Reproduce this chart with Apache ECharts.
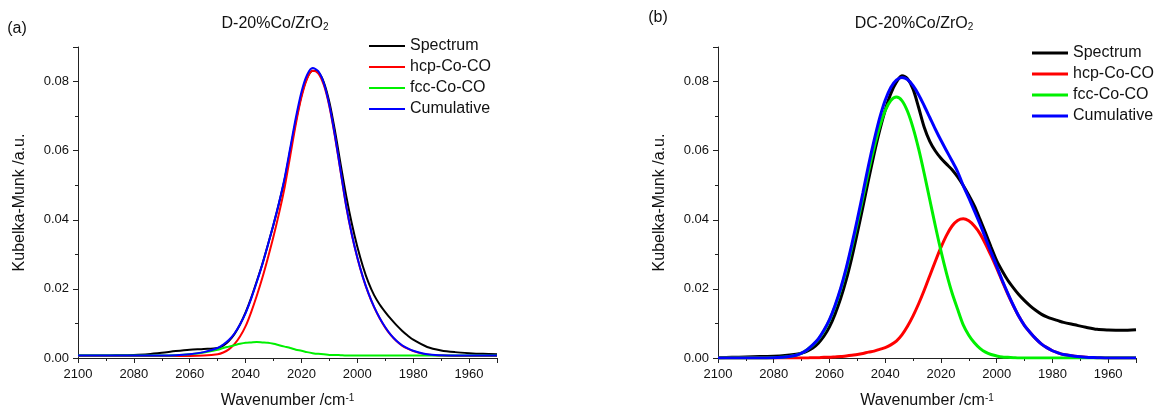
<!DOCTYPE html>
<html><head><meta charset="utf-8">
<script src="https://cdn.jsdelivr.net/npm/echarts@6/dist/echarts.min.js"></script>
<style>html,body{margin:0;padding:0;background:#fff}#c{width:1156px;height:414px}</style>
</head><body><div id="c"></div>
<script>
// ---------- Panel (a): D-20%Co/ZrO2 ----------
const waveA = [2100,2095,2090,2085,2080,2075,2070,2065,2060,2055,2050,
  2048,2046,2044,2042,2040,2038,2036,2034,2032,2030,2028,2026,2024,2022,2020,2018,2016,2014,2012,2010,
  2008,2006,2004,2002,2000,1998,1996,1994,1992,1990,1988,1986,1984,1982,1980,
  1975,1970,1965,1960,1955,1950];
const spectrumA = [0.0007,0.0007,0.0007,0.0008,0.0009,0.0011,0.0015,0.0020,0.0024,0.0026,0.0029,
  0.0036,0.0049,0.0069,0.0097,0.0132,0.0174,0.0222,0.0272,0.0328,0.0386,0.0449,0.0518,0.0602,0.0686,0.0760,0.0810,0.0831,0.0827,0.0798,0.0740,
  0.0657,0.0562,0.0470,0.0390,0.0322,0.0265,0.0218,0.0182,0.0155,0.0133,0.0113,0.0095,0.0079,0.0065,0.0053,
  0.0032,0.0022,0.0017,0.0014,0.0012,0.0011];
const hcpA = [0.0006,0.0006,0.0006,0.0006,0.0006,0.0006,0.0006,0.0006,0.0006,0.0007,0.0011,
  0.0016,0.0025,0.0040,0.0062,0.0092,0.0133,0.0180,0.0232,0.0290,0.0352,0.0420,0.0495,0.0586,0.0678,0.0755,0.0808,0.0831,0.0824,0.0790,0.0728,
  0.0640,0.0540,0.0440,0.0358,0.0290,0.0233,0.0186,0.0147,0.0115,0.0088,0.0066,0.0049,0.0036,0.0027,0.0020,
  0.0010,0.0007,0.0006,0.0006,0.0006,0.0006];
const fccA = [0.0007,0.0007,0.0007,0.0007,0.0007,0.0007,0.0007,0.0008,0.0011,0.0016,0.0024,
  0.0029,0.0033,0.0037,0.0041,0.0044,0.0045,0.0046,0.0045,0.0044,0.0041,0.0037,0.0033,0.0029,0.0024,0.0021,0.0017,0.0014,0.0012,0.0011,0.0009,
  0.0009,0.0008,0.0007,0.0007,0.0007,0.0007,0.0007,0.0007,0.0007,0.0007,0.0007,0.0007,0.0007,0.0007,0.0007,
  0.0007,0.0007,0.0007,0.0007,0.0007,0.0007];
const cumulativeA = [0.0007,0.0007,0.0007,0.0007,0.0007,0.0007,0.0007,0.0008,0.0011,0.0017,0.0029,
  0.0039,0.0052,0.0071,0.0097,0.0130,0.0172,0.0220,0.0271,0.0328,0.0387,0.0451,0.0522,0.0609,0.0696,0.0770,0.0819,0.0839,0.0830,0.0795,0.0731,
  0.0643,0.0542,0.0441,0.0359,0.0291,0.0234,0.0187,0.0148,0.0116,0.0089,0.0067,0.0050,0.0037,0.0028,0.0021,
  0.0011,0.0008,0.0007,0.0007,0.0007,0.0007];

// ---------- Panel (b): DC-20%Co/ZrO2 ----------
const waveB = [2100,2095,2090,2085,2080,2076,
  2072,2070,2068,2066,2064,2062,2060,2058,2056,2054,
  2052,2050,2048,2046,2044,2042,2040,2038,2036,2034,
  2032,2030,2028,2026,2024,2022,2020,2018,2016,2014,
  2012,2010,2008,2006,2004,2002,2000,1998,1996,1994,
  1992,1990,1988,1986,1984,1982,1980,1978,1976,
  1972,1968,1964,1960,1955,1950];
const spectrumB = [0.0001,0.0002,0.0003,0.0004,0.0005,0.0007,
  0.0011,0.0014,0.0020,0.0029,0.0043,0.0063,0.0090,0.0127,0.0172,0.0226,
  0.0290,0.0362,0.0437,0.0515,0.0590,0.0658,0.0717,0.0765,0.0798,0.0817,
  0.0808,0.0778,0.0725,0.0668,0.0627,0.0599,0.0578,0.0561,0.0545,0.0524,
  0.0499,0.0471,0.0440,0.0402,0.0362,0.0321,0.0282,0.0252,0.0225,0.0203,
  0.0183,0.0166,0.0151,0.0138,0.0127,0.0119,0.0113,0.0108,0.0103,
  0.0096,0.0089,0.0083,0.0081,0.0080,0.0082];
const hcpB = [0,0,0,0,0,0,
  0,0,0,0.0001,0.0001,0.0002,0.0002,0.0003,0.0004,0.0006,
  0.0008,0.0010,0.0013,0.0017,0.0020,0.0025,0.0030,0.0038,0.0049,0.0067,
  0.0092,0.0122,0.0157,0.0196,0.0238,0.0280,0.0320,0.0355,0.0382,0.0398,
  0.0403,0.0397,0.0382,0.0360,0.0330,0.0296,0.0260,0.0222,0.0185,0.0151,
  0.0120,0.0094,0.0074,0.0056,0.0041,0.0030,0.0021,0.0015,0.0010,
  0.0005,0.0002,0.0001,0,0,0];
const fccB = [0,0,0,0,0.0001,0.0003,
  0.0008,0.0014,0.0024,0.0037,0.0054,0.0078,0.0109,0.0149,0.0197,0.0254,
  0.0320,0.0391,0.0465,0.0540,0.0609,0.0669,0.0716,0.0745,0.0755,0.0745,
  0.0714,0.0666,0.0605,0.0534,0.0458,0.0382,0.0310,0.0245,0.0188,0.0141,
  0.0096,0.0066,0.0044,0.0028,0.0017,0.0010,0.0006,0.0003,0.0002,0.0001,
  0,0,0,0,0,0,0,0,0,
  0,0,0,0,0,0];
const cumulativeB = [0,0,0,0,0.0001,0.0003,
  0.0008,0.0014,0.0024,0.0038,0.0055,0.0080,0.0111,0.0152,0.0201,0.0260,
  0.0328,0.0401,0.0478,0.0557,0.0629,0.0694,0.0746,0.0783,0.0804,0.0812,
  0.0806,0.0788,0.0762,0.0730,0.0696,0.0662,0.0630,0.0600,0.0570,0.0539,
  0.0499,0.0463,0.0426,0.0388,0.0347,0.0306,0.0266,0.0225,0.0187,0.0152,
  0.0120,0.0094,0.0074,0.0056,0.0041,0.0030,0.0021,0.0015,0.0010,
  0.0005,0.0002,0.0001,0,0,0];

const seriesNames = ['Spectrum','hcp-Co-CO','fcc-Co-CO','Cumulative'];
const seriesColors = ['#000000','#ff0000','#00f000','#0000ff'];
const titlesText = ['D-20%Co/ZrO{sub|2}','DC-20%Co/ZrO{sub|2}'];
const panelTags = ['(a)','(b)'];

const FONT = '"Liberation Sans", Arial, Helvetica, sans-serif';
const AX = '#222';
const chart = echarts.init(document.getElementById('c'), null, {renderer: 'canvas'});

function pairs(xs, ys) { return xs.map((x, i) => [x, ys[i]]); }

function xAxisCfg(gi) {
  return {
    gridIndex: gi, type: 'value', inverse: true, min: 1950, max: 2100,
    splitNumber: 7, minInterval: 20, maxInterval: 20,
    name: 'Wavenumber /cm{sup|-1}', nameLocation: 'middle', nameGap: 35,
    nameTextStyle: {fontFamily: FONT, fontSize: 16, color: '#111',
      rich: {sup: {fontFamily: FONT, fontSize: 10, color: '#111', verticalAlign: 'top', lineHeight: 10}}},
    axisLine: {show: true, onZero: false, lineStyle: {color: AX, width: 1}},
    axisTick: {show: true, inside: false, length: 5, lineStyle: {color: AX}},
    minorTick: {show: true, splitNumber: 2, length: 3, lineStyle: {color: AX}},
    axisLabel: {fontFamily: FONT, fontSize: 13, color: '#111', margin: 10, showMinLabel: false,
      formatter: v => String(Math.round(v))},
    splitLine: {show: false}, minorSplitLine: {show: false}
  };
}
function yAxisCfg(gi) {
  return {
    gridIndex: gi, type: 'value', min: 0, max: 0.09, interval: 0.02,
    name: 'Kubelka-Munk /a.u.', nameLocation: 'middle', nameGap: 50,
    nameTextStyle: {fontFamily: FONT, fontSize: 16, color: '#111'},
    axisLine: {show: true, onZero: false, lineStyle: {color: AX, width: 1}},
    axisTick: {show: true, inside: false, length: 5, lineStyle: {color: AX}},
    minorTick: {show: true, splitNumber: 2, length: 3, lineStyle: {color: AX}},
    axisLabel: {fontFamily: FONT, fontSize: 13, color: '#111', margin: 9, showMaxLabel: false,
      formatter: v => v.toFixed(2)},
    splitLine: {show: false}, minorSplitLine: {show: false}
  };
}

const dataA = [spectrumA, hcpA, fccA, cumulativeA];
const dataB = [spectrumB, hcpB, fccB, cumulativeB];
const series = [];
seriesNames.forEach((n, i) => {
  series.push({name: n, type: 'line', xAxisIndex: 0, yAxisIndex: 0, data: pairs(waveA, dataA[i]),
    showSymbol: false, smooth: 0.3, color: seriesColors[i], lineStyle: {width: 2, color: seriesColors[i]}, silent: true, z: 2 + i});
});
seriesNames.forEach((n, i) => {
  series.push({name: n, type: 'line', xAxisIndex: 1, yAxisIndex: 1, data: pairs(waveB, dataB[i]),
    showSymbol: false, smooth: 0.3, color: seriesColors[i], lineStyle: {width: 3, color: seriesColors[i]}, silent: true, z: 2 + i});
});

function legendCfg(left, top, h) {
  return {
    data: seriesNames, orient: 'vertical', left: left, top: top, padding: 0, itemGap: 1,
    icon: 'rect', itemWidth: 36, itemHeight: h, selectedMode: false,
    textStyle: {fontFamily: FONT, fontSize: 16, color: '#111', lineHeight: 20, padding: [0, 0, 0, 0]}
  };
}

const titleRich = {sub: {fontFamily: FONT, fontSize: 10, fill: '#111', verticalAlign: 'bottom', padding: [6, 0, 0, 0]}};
chart.setOption({
  animation: false,
  backgroundColor: '#fff',
  grid: [
    {left: 78, top: 47, width: 419, height: 315},
    {left: 718, top: 47, width: 418, height: 315}
  ],
  xAxis: [xAxisCfg(0), xAxisCfg(1)],
  yAxis: [yAxisCfg(0), yAxisCfg(1)],
  legend: [legendCfg(369, 36, 2), legendCfg(1032, 43, 3)],
  series: series,
  graphic: [
    {type: 'text', x: 275, y: 24, style: {text: titlesText[0], fill: '#111', font: '16px ' + FONT, textAlign: 'center', textVerticalAlign: 'middle', rich: titleRich}},
    {type: 'text', x: 914, y: 24, style: {text: titlesText[1], fill: '#111', font: '16px ' + FONT, textAlign: 'center', textVerticalAlign: 'middle', rich: titleRich}},
    {type: 'text', x: 17, y: 29, style: {text: panelTags[0], fill: '#111', font: '16px ' + FONT, textAlign: 'center', textVerticalAlign: 'middle'}},
    {type: 'text', x: 658, y: 18, style: {text: panelTags[1], fill: '#111', font: '16px ' + FONT, textAlign: 'center', textVerticalAlign: 'middle'}}
  ]
});
</script>
</body></html>
